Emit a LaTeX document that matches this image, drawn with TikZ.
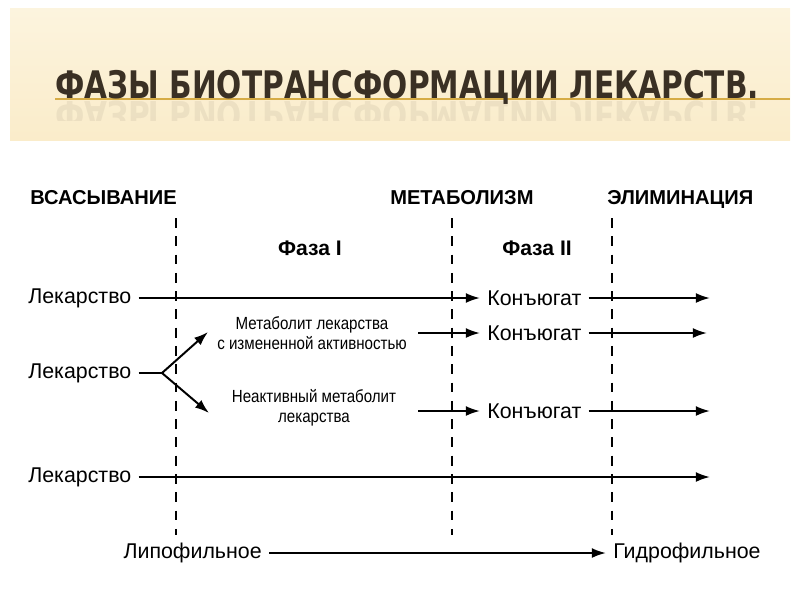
\documentclass[tikz,border=0pt]{standalone}
\usepackage{fontspec}
\usepackage{graphicx}
\setmainfont{Liberation Sans}
\newfontfamily\narrowfont[FakeStretch=0.86]{Liberation Sans}
\newfontfamily\titlefont{DejaVu Sans}
\usetikzlibrary{arrows.meta}

\definecolor{bandtop}{RGB}{252,244,222}
\definecolor{bandbot}{RGB}{250,236,202}
\definecolor{titlecol}{RGB}{58,48,36}
\definecolor{rulecol}{RGB}{214,172,70}

\newcommand{\titletext}{\scalebox{0.78}[1]{ФАЗЫ БИОТРАНСФОРМАЦИИ ЛЕКАРСТВ.}}

\tikzset{
  lbl/.style={inner xsep=5pt, inner ysep=2pt, font=\fontsize{15.2}{18}\selectfont},
  hdr/.style={inner sep=0pt, anchor=base west, font=\bfseries\fontsize{14.3}{17}\selectfont},
  phase/.style={inner sep=0pt, font=\bfseries\fontsize{15}{17}\selectfont},
  metab/.style={inner sep=0pt, align=center, font=\narrowfont\fontsize{12.5}{14.2}\selectfont},
  titletxt/.style={inner sep=0pt, anchor=base west, text=titlecol,
    font=\titlefont\bfseries\fontsize{27}{30}\selectfont},
  flow/.style={line width=1.4pt, -{Latex[length=10pt,width=7pt]}},
  border/.style={line width=1.1pt, dash pattern=on 7pt off 6pt},
}

\begin{document}
\begin{tikzpicture}[x=0.025cm, y=-0.025cm]
    \useasboundingbox (0,0) rectangle (800,600);

    % title band
    \shade[top color=bandtop, bottom color=bandbot] (10,8) rectangle (790,140);
    \draw[rulecol, line width=0.8pt] (55,99) -- (790,99);
    \node[titletxt] (title) at (55,98) {\titletext};
    \begin{scope}
        \clip (10,100) rectangle (790,120);
        \node[titletxt, yscale=-1, transform shape, opacity=0.07] (mirror) at (55,101) {\titletext};
    \end{scope}

    % stages and phases
    \node[hdr] (absorb) at (30,204) {ВСАСЫВАНИЕ};
    \node[hdr] (metabol) at (390,204) {МЕТАБОЛИЗМ};
    \node[hdr] (elim) at (607,204) {ЭЛИМИНАЦИЯ};
    \foreach \x in {176,452,612}
        \draw[border] (\x,218) -- (\x,535);
    \node[phase] (ph1) at (310,248) {Фаза I};
    \node[phase] (ph2) at (537,248) {Фаза II};

    % drug -> conjugate
    \node[lbl, anchor=west] (drug1) at (21,298) {Лекарство};
    \node[lbl, anchor=west] (conj1) at (480,298) {Конъюгат};
    \coordinate (out1) at (710,298);
    \draw[flow] (drug1.east) -- (conj1.west);
    \draw[flow] (conj1.east) -- (out1);

    % drug -> metabolites -> conjugate
    \node[lbl, anchor=west] (drug2) at (21,373) {Лекарство};
    \coordinate (fork) at (162,373);
    \coordinate (up) at (208,332);
    \coordinate (down) at (209,413);
    \draw[line width=1.4pt] (drug2.east) -- (fork);
    \draw[flow] (fork) -- (up);
    \draw[flow] (fork) -- (down);

    \node[metab] (active) at (312,333) {Метаболит лекарства\\с измененной активностью};
    \node[lbl, anchor=west] (conj2) at (480,333) {Конъюгат};
    \coordinate (in2) at (418,333);
    \coordinate (out2) at (707,333);
    \draw[flow] (in2) -- (conj2.west);
    \draw[flow] (conj2.east) -- (out2);

    \node[metab] (inactive) at (314,408) {Неактивный метаболит\\лекарства};
    \node[lbl, anchor=west] (conj3) at (480,411) {Конъюгат};
    \coordinate (in3) at (418,411);
    \coordinate (out3) at (710,411);
    \draw[flow] (in3) -- (conj3.west);
    \draw[flow] (conj3.east) -- (out3);

    % unchanged drug
    \node[lbl, anchor=west] (drug3) at (21,477) {Лекарство};
    \coordinate (out4) at (710,477);
    \draw[flow] (drug3.east) -- (out4);

    % lipophilic -> hydrophilic
    \node[lbl, anchor=east] (lipo) at (269,553) {Липофильное};
    \node[lbl, anchor=west] (hydro) at (606,553) {Гидрофильное};
    \draw[flow] (lipo.east) -- (hydro.west);
\end{tikzpicture}
\end{document}
